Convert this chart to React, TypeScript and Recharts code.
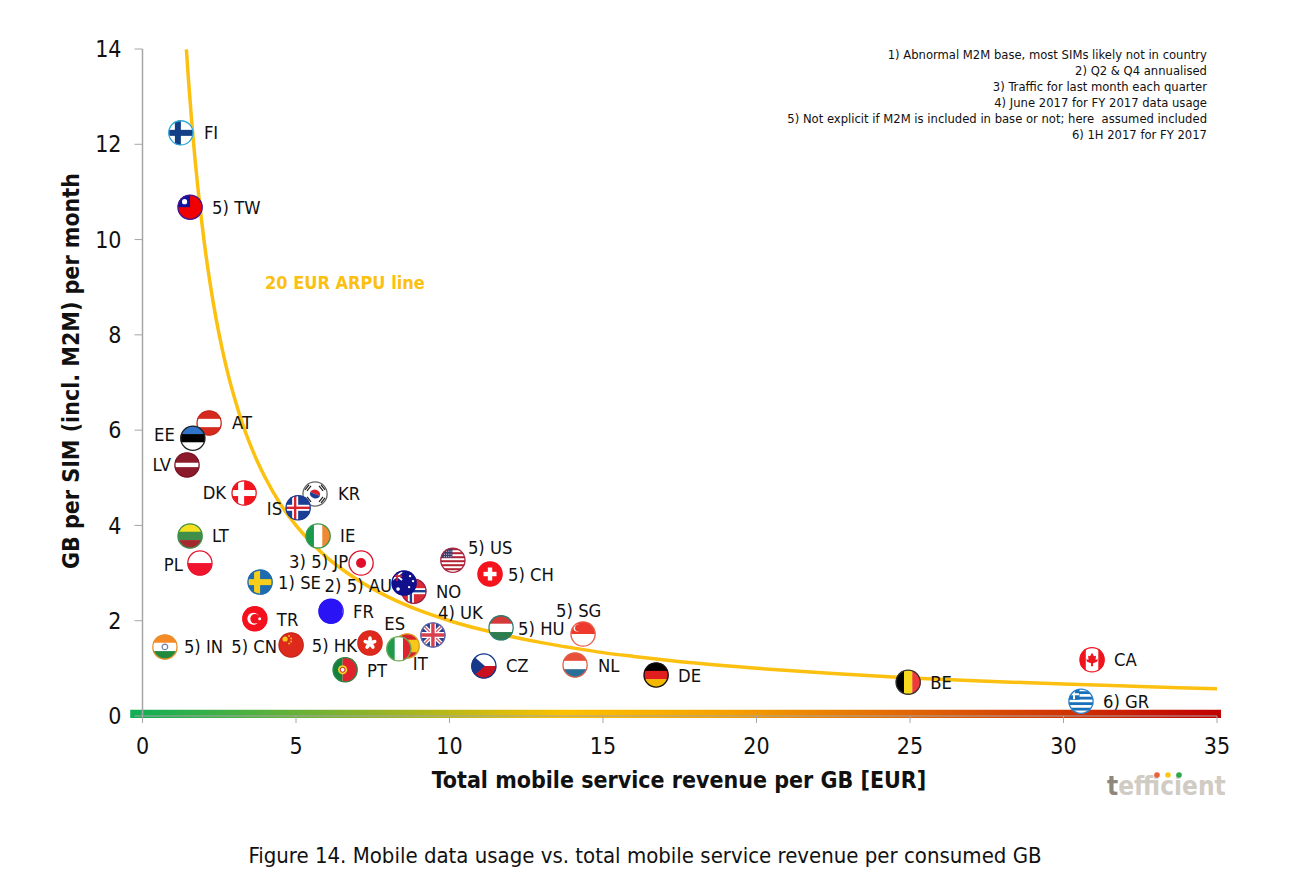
import {
  ComposedChart,
  Line,
  ReferenceArea,
  Scatter,
  XAxis,
  YAxis,
} from "recharts";

const FONT = "'DejaVu Sans Condensed', 'DejaVu Sans', sans-serif";

const countries = [
  "FI", "TW", "AT", "EE", "LV", "DK", "KR", "IS", "LT", "IE", "PL", "JP", "US", "CH", "SE", "NO", "AU",
  "FR", "TR", "UK", "HU", "SG", "IN", "CN", "HK", "ES", "IT", "PT", "CZ", "NL", "DE", "BE", "CA", "GR",
];
const labels = [
  "FI", "5) TW", "AT", "EE", "LV", "DK", "KR", "IS", "LT", "IE", "PL", "3) 5) JP", "5) US", "5) CH", "1) SE", "NO", "2) 5) AU",
  "FR", "TR", "4) UK", "5) HU", "5) SG", "5) IN", "5) CN", "5) HK", "ES", "IT", "PT", "CZ", "NL", "DE", "BE", "CA", "6) GR",
];
const revenuePerGb = [
  1.25, 1.55, 2.17, 1.64, 1.45, 3.31, 5.62, 5.07, 1.55, 5.72, 1.87, 7.12, 10.11, 11.32, 3.83, 8.84, 8.52,
  6.14, 3.66, 9.46, 11.68, 14.35, 0.73, 4.84, 7.41, 8.62, 8.35, 6.6, 11.12, 14.09, 16.73, 24.94, 30.93, 30.57,
];
const gbPerSim = [
  12.24, 10.68, 6.15, 5.83, 5.27, 4.68, 4.66, 4.37, 3.78, 3.78, 3.21, 3.21, 3.27, 2.98, 2.81, 2.62, 2.79,
  2.2, 2.04, 1.7, 1.85, 1.72, 1.45, 1.49, 1.53, 1.47, 1.41, 0.97, 1.05, 1.07, 0.86, 0.71, 1.18, 0.31,
];

const arpuX = [
  1.43, 1.5, 1.6, 1.7, 1.8, 1.9, 2, 2.2, 2.4, 2.6, 2.8, 3, 3.25, 3.5, 3.75, 4, 4.5, 5, 5.5, 6, 6.5, 7, 8, 9, 10,
  11, 12, 13, 14, 15, 16, 18, 20, 22.5, 25, 27.5, 30, 32.5, 35,
];
const arpuY = [
  13.99, 13.33, 12.5, 11.76, 11.11, 10.53, 10, 9.09, 8.33, 7.69, 7.14, 6.67, 6.15, 5.71, 5.33, 5, 4.44, 4, 3.64,
  3.33, 3.08, 2.86, 2.5, 2.22, 2, 1.82, 1.67, 1.54, 1.43, 1.33, 1.25, 1.11, 1, 0.89, 0.8, 0.73, 0.67, 0.62, 0.57,
];

const xTicks = [0, 5, 10, 15, 20, 25, 30, 35];
const yTicks = [0, 2, 4, 6, 8, 10, 12, 14];

const footnotes = [
  "1) Abnormal M2M base, most SIMs likely not in country",
  "2) Q2 & Q4 annualised",
  "3) Traffic for last month each quarter",
  "4) June 2017 for FY 2017 data usage",
  "5) Not explicit if M2M is included in base or not; here  assumed included",
  "6) 1H 2017 for FY 2017",
];

const flagRows = countries.map((code, i) => ({
  code,
  label: labels[i],
  x: revenuePerGb[i],
  y: gbPerSim[i],
}));
const arpuRows = arpuX.map((x, i) => ({ x, y: arpuY[i] }));

// label placement relative to the flag centre: dx, dy, anchor
const labelPlacement: Record<string, [number, number, "start" | "end"]> = {
  FI: [23, 0, "start"], TW: [22, 0, "start"], AT: [23, 0, "start"], EE: [-18, -4, "end"], LV: [-16, 0, "end"],
  DK: [-18, -1, "end"], KR: [23, 0, "start"], IS: [-16, 1, "end"], LT: [22, 0, "start"], IE: [22, 0, "start"],
  PL: [-17, 1, "end"], JP: [-13, -2, "end"], US: [15, -13, "start"], CH: [18, 0, "start"], SE: [18, 0, "start"],
  AU: [-12, 2, "end"], NO: [22, 0, "start"], FR: [22, 0, "start"], TR: [22, 1, "start"], UK: [5, -23, "start"],
  HU: [17, 1, "start"], SG: [-27, -24, "start"], IN: [19, 0, "start"], CN: [-14, 1, "end"], HK: [-13, 2, "end"],
  ES: [-2, -22, "end"], IT: [14, 15, "start"], PT: [22, 1, "start"], CZ: [22, 0, "start"], NL: [23, 0, "start"],
  DE: [22, 0, "start"], BE: [22, 0, "start"], CA: [22, 0, "start"], GR: [22, 0, "start"],
};

const R = 12.5;

function hStripes(colors: string[]) {
  const h = (2 * R) / colors.length;
  return colors.map((c, i) => <rect key={i} x={-R} y={-R + i * h} width={2 * R} height={h + 0.3} fill={c} />);
}

function vStripes(colors: string[]) {
  const w = (2 * R) / colors.length;
  return colors.map((c, i) => <rect key={i} x={-R + i * w} y={-R} width={w + 0.3} height={2 * R} fill={c} />);
}

function nordic(bg: string, outer: string, inner?: string) {
  return (
    <>
      <rect x={-R} y={-R} width={2 * R} height={2 * R} fill={bg} />
      <rect x={-6} y={-R} width={6} height={2 * R} fill={outer} />
      <rect x={-R} y={-3} width={2 * R} height={6} fill={outer} />
      {inner && <rect x={-4.2} y={-R} width={2.4} height={2 * R} fill={inner} />}
      {inner && <rect x={-R} y={-1.2} width={2 * R} height={2.4} fill={inner} />}
    </>
  );
}

function flagArt(code: string) {
  switch (code) {
    case "FI":
      return nordic("#ffffff", "#123f85");
    case "TW":
      return (
        <>
          <rect x={-R} y={-R} width={2 * R} height={2 * R} fill="#f00000" />
          <rect x={-R} y={-R} width={R} height={R} fill="#13139a" />
          <circle cx={-5.5} cy={-5.5} r={2.6} fill="#ffffff" />
        </>
      );
    case "AT":
      return hStripes(["#d52b1e", "#ffffff", "#d52b1e"]);
    case "EE":
      return hStripes(["#2f74c8", "#000000", "#ffffff"]);
    case "LV":
      return (
        <>
          <rect x={-R} y={-R} width={2 * R} height={2 * R} fill="#8b1a2b" />
          <rect x={-R} y={-2.2} width={2 * R} height={4.4} fill="#ffffff" />
        </>
      );
    case "DK":
      return nordic("#f5141e", "#ffffff");
    case "KR":
      return (
        <>
          <rect x={-R} y={-R} width={2 * R} height={2 * R} fill="#ffffff" />
          <path d="M-5 -2 A5.5 5.5 0 0 1 5 2 Z" fill="#d8232f" />
          <path d="M-5 -2 A5.5 5.5 0 0 0 5 2 Z" fill="#1d3f94" />
          <path d="M-10 -4 L-6 -9 M-8 -3 L-4 -8 M6 -9 L10 -4 M4 -8 L8 -3 M-10 4 L-6 9 M-8 3 L-4 8 M6 9 L10 4 M4 8 L8 3" stroke="#222222" strokeWidth={1.2} />
        </>
      );
    case "IS":
      return nordic("#1a3f94", "#ffffff", "#d8232f");
    case "LT":
      return hStripes(["#f5e020", "#3f8f4a", "#a52a30"]);
    case "IE":
      return vStripes(["#199a4c", "#ffffff", "#f08a32"]);
    case "PL":
      return hStripes(["#ffffff", "#f0142f"]);
    case "JP":
      return (
        <>
          <rect x={-R} y={-R} width={2 * R} height={2 * R} fill="#ffffff" />
          <circle r={5} fill="#e0102a" />
        </>
      );
    case "US":
      return (
        <>
          <rect x={-R} y={-R} width={2 * R} height={2 * R} fill="#ffffff" />
          {[-12, -8, -4, 0, 4, 8].map((y) => (
            <rect key={y} x={-R} y={y} width={2 * R} height={2} fill="#b22234" />
          ))}
          <rect x={-R} y={-R} width={12} height={10} fill="#3c3b6e" />
          <path d="M-9 -9H-1M-9 -6H-1M-9 -3.5H-1" stroke="#ffffff" strokeWidth={0.8} strokeDasharray="1 1.2" />
        </>
      );
    case "CH":
      return (
        <>
          <rect x={-R} y={-R} width={2 * R} height={2 * R} fill="#f5141e" />
          <rect x={-2.2} y={-6.5} width={4.4} height={13} fill="#ffffff" />
          <rect x={-6.5} y={-2.2} width={13} height={4.4} fill="#ffffff" />
        </>
      );
    case "SE":
      return nordic("#1f6bb0", "#f7cf1a");
    case "NO":
      return nordic("#d92a35", "#ffffff", "#1a3f8f");
    case "AU":
      return (
        <>
          <rect x={-R} y={-R} width={2 * R} height={2 * R} fill="#10108c" />
          <path d="M-12 -11L-2 -3M-2 -11L-12 -3" stroke="#ffffff" strokeWidth={1.8} />
          <path d="M-7 -12V-2M-12 -7H-2" stroke="#d8232f" strokeWidth={1.6} />
          <circle cx={6} cy={-7} r={1.2} fill="#ffffff" />
          <circle cx={9} cy={-2} r={1.2} fill="#ffffff" />
          <circle cx={5} cy={4} r={1.2} fill="#ffffff" />
          <circle cx={-6} cy={6} r={1.8} fill="#ffffff" />
        </>
      );
    case "FR":
      return (
        <>
          <rect x={-R} y={-R} width={2 * R} height={2 * R} fill="#2a14f5" />
          <path d="M8 -10 A12.5 12.5 0 0 1 8 10 A 16 16 0 0 0 8 -10Z" fill="#ffffff" />
        </>
      );
    case "TR":
      return (
        <>
          <rect x={-R} y={-R} width={2 * R} height={2 * R} fill="#f5101e" />
          <circle cx={-1.5} r={6} fill="#ffffff" />
          <circle cx={0.2} r={4.8} fill="#f5101e" />
          <circle cx={4.8} r={1.5} fill="#ffffff" />
        </>
      );
    case "UK":
      return (
        <>
          <rect x={-R} y={-R} width={2 * R} height={2 * R} fill="#2d3f8f" />
          <path d="M-12 -12L12 12M-12 12L12 -12" stroke="#ffffff" strokeWidth={4} />
          <path d="M-12 -12L12 12M-12 12L12 -12" stroke="#d8606a" strokeWidth={1.4} />
          <path d="M0 -13V13M-13 0H13" stroke="#ffffff" strokeWidth={6} />
          <path d="M0 -13V13M-13 0H13" stroke="#d84050" strokeWidth={3.4} />
        </>
      );
    case "HU":
      return hStripes(["#d43a3a", "#ffffff", "#2e7d4f"]);
    case "SG":
      return (
        <>
          {hStripes(["#ee3a2c", "#ffffff"])}
          <circle cx={-6} cy={-6} r={3.5} fill="#ffffff" />
          <circle cx={-4.8} cy={-6} r={3.2} fill="#ee3a2c" />
        </>
      );
    case "IN":
      return (
        <>
          {hStripes(["#f58a26", "#ffffff", "#1f8a3c"])}
          <circle r={2.8} fill="none" stroke="#6a7fb0" strokeWidth={1.2} />
        </>
      );
    case "CN":
      return (
        <>
          <rect x={-R} y={-R} width={2 * R} height={2 * R} fill="#de2a1c" />
          <circle cx={-6} cy={-6} r={2.6} fill="#f6c81a" />
          <circle cx={-2} cy={-9} r={0.9} fill="#f6c81a" />
          <circle cx={0} cy={-6.5} r={0.9} fill="#f6c81a" />
          <circle cx={0} cy={-3.5} r={0.9} fill="#f6c81a" />
          <circle cx={-2} cy={-1.5} r={0.9} fill="#f6c81a" />
        </>
      );
    case "HK":
      return (
        <>
          <rect x={-R} y={-R} width={2 * R} height={2 * R} fill="#de2a1c" />
          {[0, 72, 144, 216, 288].map((a) => (
            <ellipse key={a} cx={0} cy={-3.5} rx={1.9} ry={3.3} fill="#ffffff" transform={`rotate(${a})`} />
          ))}
        </>
      );
    case "ES":
      return hStripes(["#d8232f", "#f7c81a", "#f7c81a", "#d8232f"]);
    case "IT":
      return vStripes(["#1f9a4c", "#ffffff", "#e0222e"]);
    case "PT":
      return (
        <>
          <rect x={-R} y={-R} width={10} height={2 * R} fill="#14803c" />
          <rect x={-2.5} y={-R} width={15} height={2 * R} fill="#e0222e" />
          <circle cx={-2.5} r={4.6} fill="#f2d21e" />
          <circle cx={-2.5} r={2.4} fill="#ffffff" stroke="#c8202c" strokeWidth={1} />
        </>
      );
    case "CZ":
      return (
        <>
          {hStripes(["#ffffff", "#c8101e"])}
          <path d="M-13 -12L1 0L-13 12Z" fill="#15388a" />
        </>
      );
    case "NL":
      return hStripes(["#e8503a", "#ffffff", "#2a6f97"]);
    case "DE":
      return hStripes(["#000000", "#e01e1e", "#f5b800"]);
    case "BE":
      return vStripes(["#000000", "#f6d81e", "#ee3a3a"]);
    case "CA":
      return (
        <>
          {vStripes(["#f0141e", "#ffffff", "#ffffff", "#f0141e"])}
          <path d="M0 -7L2 -3.5L4 -4L3.5 0L6 -0.5L5 2L1 3.5V6.5H-1V3.5L-5 2L-6 -0.5L-3.5 0L-4 -4L-2 -3.5Z" fill="#f0141e" />
        </>
      );
    case "GR":
      return (
        <>
          <rect x={-R} y={-R} width={2 * R} height={2 * R} fill="#ffffff" />
          {[-10, -4.5, 1, 6.5].map((y) => (
            <rect key={y} x={-R} y={y} width={2 * R} height={2.8} fill="#1a70b8" />
          ))}
          <rect x={-R} y={-R} width={11} height={11} fill="#1a70b8" />
          <path d="M-7 -12V-2M-12 -7H-2" stroke="#ffffff" strokeWidth={2} />
        </>
      );
    default:
      return null;
  }
}

const ringColor: Record<string, string> = {
  FI: "#30a8d8", TW: "#3a1a9a", AT: "#c8281c", EE: "#222222", LV: "#7a1626", DK: "#e0202a", KR: "#666666",
  IS: "#1a3f94", LT: "#3f8f4a", IE: "#3a9a50", PL: "#e0182f", JP: "#e0102a", US: "#a82840", CH: "#f5141e",
  SE: "#1f6bb0", NO: "#9a2040", AU: "#10108c", FR: "#2a14f5", TR: "#f5101e", UK: "#5a68a8", HU: "#2e7d6f",
  SG: "#e8604a", IN: "#e8902a", CN: "#c8281c", HK: "#d8281c", ES: "#d8a020", IT: "#6aaa50", PT: "#2a8a4a",
  CZ: "#15388a", NL: "#e0604a", DE: "#111111", BE: "#333333", CA: "#f0141e", GR: "#2a80c8",
};

function FlagPoint(props: any) {
  const { cx, cy, payload } = props;
  if (cx == null || cy == null) return null;
  const [dx, dy, anchor] = labelPlacement[payload.code];
  const clipId = `flag-${payload.code}`;
  return (
    <g>
      <g transform={`translate(${cx},${cy})`}>
        <clipPath id={clipId}>
          <circle r={R} />
        </clipPath>
        <g clipPath={`url(#${clipId})`}>{flagArt(payload.code)}</g>
        <circle r={R - 0.4} fill="none" stroke={ringColor[payload.code]} strokeWidth={1.3} />
      </g>
      <text
        x={cx + dx}
        y={cy + dy}
        textAnchor={anchor}
        dominantBaseline="central"
        fontFamily={FONT}
        fontSize={18.3}
        fill="#111111"
      >
        {payload.label}
      </text>
    </g>
  );
}

export default function App() {
  return (
    <div style={{ position: "absolute", left: 0, top: 0, width: 1291, height: 881, background: "#ffffff" }}>
      <ComposedChart
        width={1291}
        height={881}
        margin={{ left: 82, right: 74, top: 49, bottom: 115 }}
      >
        <defs>
          <linearGradient id="revenueScale" x1="0" y1="0" x2="1" y2="0">
            <stop offset="0" stopColor="#0fae56" />
            <stop offset="0.22" stopColor="#8fb32a" />
            <stop offset="0.4" stopColor="#fcc000" />
            <stop offset="0.55" stopColor="#f4a000" />
            <stop offset="0.75" stopColor="#dc5a08" />
            <stop offset="1" stopColor="#c00000" />
          </linearGradient>
        </defs>
        <XAxis
          type="number"
          dataKey="x"
          domain={[0, 35]}
          ticks={xTicks}
          height={50}
          interval={0}
          stroke="#a6a6a6"
          tickSize={7}
          tickMargin={15}
          tick={{ fontFamily: FONT, fontSize: 23, fill: "#111111" }}
        />
        <YAxis
          type="number"
          dataKey="y"
          domain={[0, 14]}
          ticks={yTicks}
          width={60.5}
          interval={0}
          stroke="#a6a6a6"
          axisLine={{ stroke: "#a6a6a6", strokeWidth: 1.5 }}
          tickSize={8}
          tickMargin={13}
          tick={{ fontFamily: FONT, fontSize: 23, fill: "#111111" }}
        />
        <Line
          data={arpuRows}
          dataKey="y"
          type="monotone"
          stroke="#fcc010"
          strokeWidth={3.5}
          dot={false}
          activeDot={false}
          isAnimationActive={false}
        />
        <Scatter data={flagRows} dataKey="y" shape={FlagPoint} isAnimationActive={false} />
        <ReferenceArea
          x1={-0.4}
          x2={35.13}
          y1={-0.04}
          y2={0.13}
          ifOverflow="visible"
          fill="url(#revenueScale)"
          fillOpacity={1}
          stroke="none"
        />

        <text x={265} y={289} fontFamily={FONT} fontWeight={700} fontSize={18} fill="#fcc010">
          20 EUR ARPU line
        </text>
        {footnotes.map((note, i) => (
          <text
            key={note}
            x={1207}
            y={59 + i * 16}
            textAnchor="end"
            fontFamily={FONT}
            fontSize={12.9}
            fill="#111111"
            style={{ whiteSpace: "pre" }}
          >
            {note}
          </text>
        ))}
        <text
          transform="translate(79,371) rotate(-90)"
          textAnchor="middle"
          fontFamily={FONT}
          fontWeight={700}
          fontSize={23}
          fill="#111111"
        >
          GB per SIM (incl. M2M) per month
        </text>
        <text x={679} y={788} textAnchor="middle" fontFamily={FONT} fontWeight={700} fontSize={23} fill="#111111">
          Total mobile service revenue per GB [EUR]
        </text>
        <text x={645} y={863} textAnchor="middle" fontFamily={FONT} fontSize={22} fill="#111111">
          Figure 14. Mobile data usage vs. total mobile service revenue per consumed GB
        </text>

        <text x={1107} y={795} fontFamily={FONT} fontWeight={700} fontSize={26} fill="#d0cbc3">
          <tspan fill="#8f877c">t</tspan>efficient
        </text>
        <circle cx={1157} cy={775} r={2.8} fill="#e8623a" />
        <circle cx={1168} cy={775} r={2.8} fill="#f6c81a" />
        <circle cx={1179} cy={775} r={2.8} fill="#2aa84a" />
      </ComposedChart>
    </div>
  );
}
